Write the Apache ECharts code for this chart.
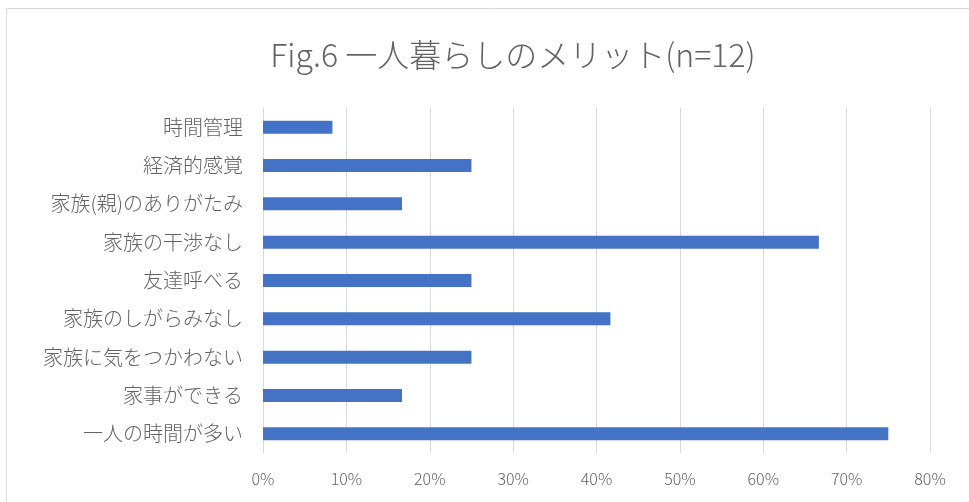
<!DOCTYPE html>
<html>
<head>
<meta charset="utf-8">
<script src="https://cdn.jsdelivr.net/npm/echarts@6/dist/echarts.min.js"></script>
<style>
  html, body { margin: 0; padding: 0; background: #ffffff; }
  #chart { width: 969px; height: 502px; }
</style>
</head>
<body>
<div id="chart"></div>
<script>
// 一人暮らしのメリット (n=12) — share of respondents per item, listed bottom to top
const categories = [
  '一人の時間が多い',
  '家事ができる',
  '家族に気をつかわない',
  '家族のしがらみなし',
  '友達呼べる',
  '家族の干渉なし',
  '家族(親)のありがたみ',
  '経済的感覚',
  '時間管理'
];
const shares = [0.75, 0.1667, 0.25, 0.4167, 0.25, 0.6667, 0.1667, 0.25, 0.0833];
const titleText = 'Fig.6 一人暮らしのメリット(n=12)';

const textColor = '#636363';
const fontFamily = '"Noto Sans CJK JP", "Noto Sans", sans-serif';

const chart = echarts.init(document.getElementById('chart'), null, { renderer: 'canvas' });
chart.setOption({
  backgroundColor: '#ffffff',
  animation: false,
  graphic: [{
    type: 'rect',
    shape: { x: 6.5, y: 8.5, width: 1000, height: 1000 },
    style: { fill: 'none', stroke: '#d9d9d9', lineWidth: 1 },
    silent: true
  }],
  title: {
    text: titleText,
    left: 508,
    textAlign: 'center',
    top: 34,
    textStyle: { color: textColor, fontSize: 32, fontWeight: 300, fontFamily: fontFamily }
  },
  grid: { left: 263, right: 39, top: 108, bottom: 49, containLabel: false },
  xAxis: {
    type: 'value',
    min: 0,
    max: 0.8,
    interval: 0.1,
    axisLine: { show: false },
    axisTick: { show: false },
    splitLine: { show: true, lineStyle: { color: '#d9d9d9', width: 1 } },
    axisLabel: {
      margin: 18,
      color: textColor,
      fontSize: 16,
      fontWeight: 300,
      fontFamily: fontFamily,
      formatter: v => Math.round(v * 100) + '%'
    }
  },
  yAxis: {
    type: 'category',
    data: categories,
    axisLine: { show: true, lineStyle: { color: '#d9d9d9' } },
    axisTick: { show: false },
    axisLabel: { margin: 20, color: textColor, fontSize: 20, fontWeight: 300, fontFamily: fontFamily }
  },
  series: [{
    type: 'bar',
    data: shares,
    barWidth: 13,
    itemStyle: { color: '#4472C4' }
  }]
});
</script>
</body>
</html>
